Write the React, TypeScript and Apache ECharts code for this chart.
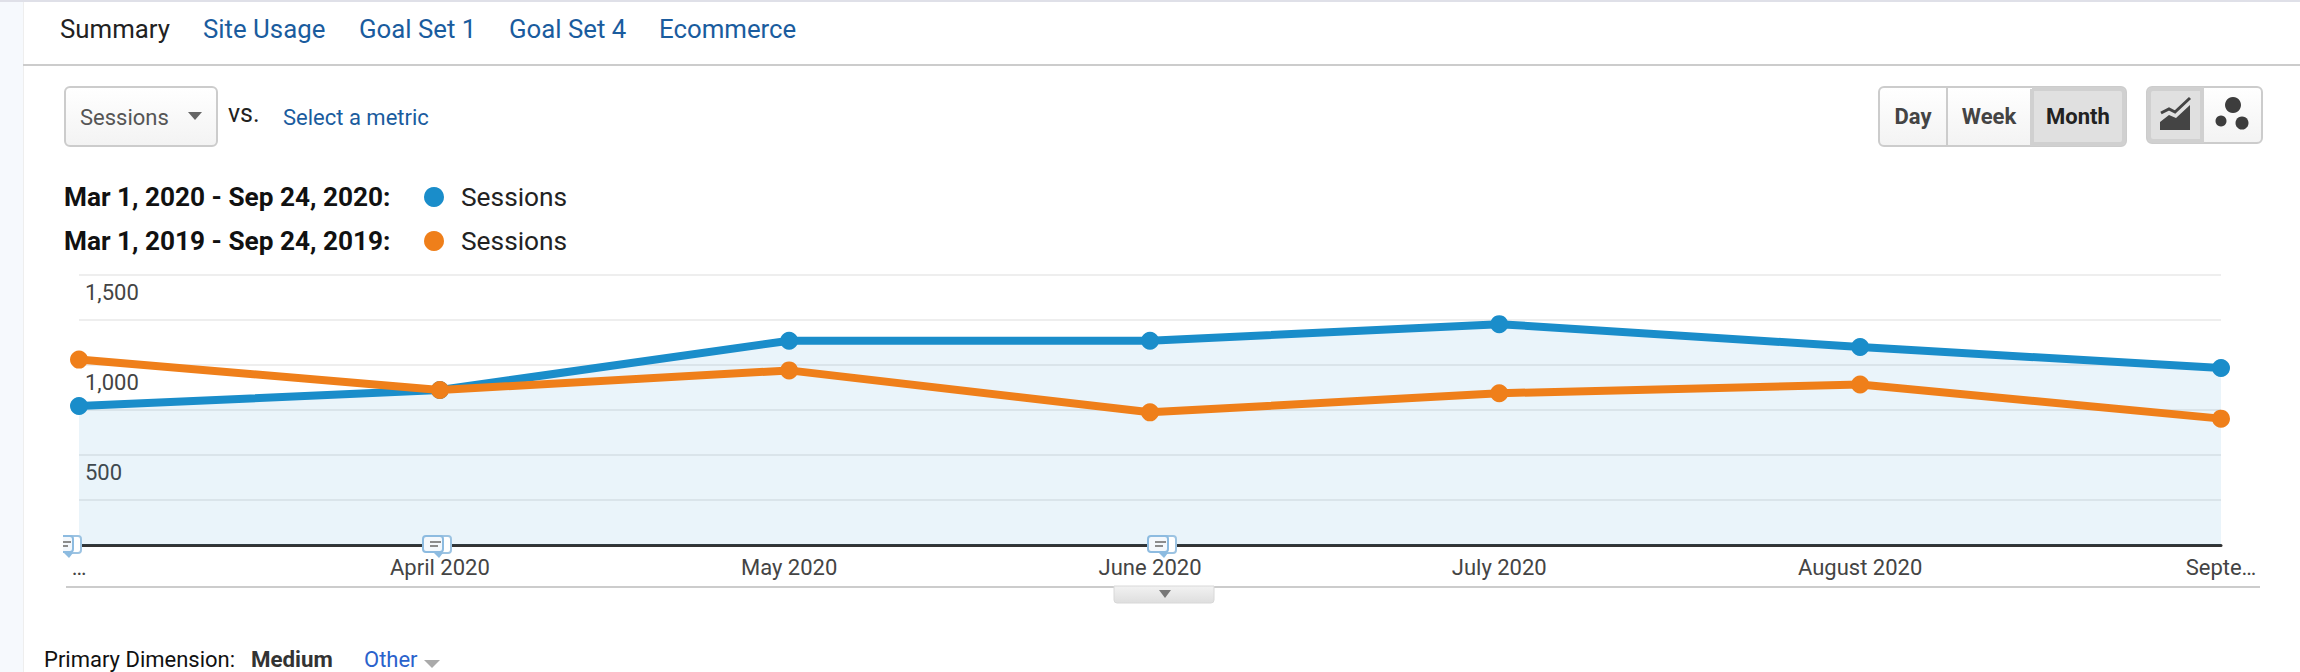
import React, { useEffect, useRef } from "react";
import * as echarts from "echarts";

const monthStarts = ["2020-03-01", "2020-04-01", "2020-05-01", "2020-06-01", "2020-07-01", "2020-08-01", "2020-09-01"];
const xLabels = ["…", "April 2020", "May 2020", "June 2020", "July 2020", "August 2020", "Septe…"];
const sessions2020 = [772, 861, 1135, 1135, 1227, 1100, 983];
const sessions2019 = [1030, 861, 970, 737, 843, 892, 702];
const yLabels = [500, 1000, 1500];
const tabs = ["Summary", "Site Usage", "Goal Set 1", "Goal Set 4", "Ecommerce"];

const FONT = "Roboto, sans-serif";
const BLUE = "#1a8dca";
const ORANGE = "#ef7f1a";
const LINK = "#1a5c9e";

const toTime = (s: string) => {
  const [y, m, d] = s.split("-").map(Number);
  return Date.UTC(y, m - 1, d);
};
const times = monthStarts.map(toTime);

function txt(text: string, x: number, y: number, size: number, fill: string, weight: any = 400, align: any = "left") {
  return {
    type: "text",
    x,
    y,
    z: 20,
    silent: true,
    style: { text, fontFamily: FONT, fontSize: size, fontWeight: weight, fill, align, verticalAlign: "middle" },
  };
}
function btnFill() {
  return new echarts.graphic.LinearGradient(0, 0, 0, 1, [
    { offset: 0, color: "#ffffff" },
    { offset: 1, color: "#f3f3f3" },
  ]);
}
function box(x: number, y: number, w: number, h: number, r: any, fill: any, stroke = "#cccccc", lw = 2, z = 10) {
  return { type: "rect", z, silent: true, shape: { x, y, width: w, height: h, r }, style: { fill, stroke, lineWidth: lw } };
}
function tri(cx: number, top: number, w: number, h: number, fill: string) {
  return {
    type: "polygon",
    z: 21,
    silent: true,
    shape: { points: [[cx - w / 2, top], [cx + w / 2, top], [cx, top + h]] },
    style: { fill },
  };
}
function note(x: number) {
  // x = left edge of the front bubble
  const items: any[] = [
    { type: "rect", z: 30, silent: true, shape: { x: x + 12, y: 536, width: 16, height: 17, r: 3 }, style: { fill: "#ffffff", stroke: "#9cc3e2", lineWidth: 2 } },
    { type: "rect", z: 31, silent: true, shape: { x, y: 536, width: 20, height: 16, r: 3 }, style: { fill: "#f4f8fc", stroke: "#8dbbe0", lineWidth: 2 } },
    { type: "polygon", z: 31, silent: true, shape: { points: [[x + 11, 553], [x + 20, 553], [x + 16, 558]] }, style: { fill: "#8dbbe0" } },
    { type: "rect", z: 32, silent: true, shape: { x: x + 7, y: 541, width: 11, height: 2 }, style: { fill: "#8c8c8c" } },
    { type: "rect", z: 32, silent: true, shape: { x: x + 7, y: 545, width: 8, height: 2 }, style: { fill: "#8c8c8c" } },
  ];
  return items;
}

export default function App() {
  const ref = useRef<HTMLDivElement>(null);
  useEffect(() => {
    document.body.style.margin = "0";
    document.body.style.background = "#fff";
    const chart = echarts.init(ref.current!, undefined, { renderer: "svg" });
    const tabX = [60, 203, 359, 509, 659];
    const graphic: any[] = [
      { type: "rect", z: 1, silent: true, shape: { x: 0, y: 0, width: 23, height: 672 }, style: { fill: "#f6f9fd" } },
      { type: "rect", z: 1, silent: true, shape: { x: 23, y: 0, width: 1, height: 672 }, style: { fill: "#eeeeee" } },
      { type: "rect", z: 2, silent: true, shape: { x: 0, y: 0, width: 2300, height: 2 }, style: { fill: "#dfe0e8" } },
      { type: "rect", z: 2, silent: true, shape: { x: 23, y: 64, width: 2277, height: 2 }, style: { fill: "#cccccc" } },
      ...tabs.map((t, i) => txt(t, tabX[i], 29, 25.8, i === 0 ? "#222222" : LINK)),

      box(65, 87, 152, 59, 5, btnFill()),
      txt("Sessions", 80, 117, 22, "#555555"),
      tri(195, 112, 14, 8, "#666666"),
      txt("vs.", 228, 113, 25, "#222222"),
      txt("Select a metric", 283, 117, 22, LINK),

      txt("Mar 1, 2020 - Sep 24, 2020:", 64, 197, 26.2, "#111111", 700),
      { type: "circle", z: 20, silent: true, shape: { cx: 434, cy: 197, r: 10 }, style: { fill: BLUE } },
      txt("Sessions", 461, 197, 26.3, "#222222"),
      txt("Mar 1, 2019 - Sep 24, 2019:", 64, 241, 26.2, "#111111", 700),
      { type: "circle", z: 20, silent: true, shape: { cx: 434, cy: 241, r: 10 }, style: { fill: ORANGE } },
      txt("Sessions", 461, 241, 26.3, "#222222"),

      box(1879, 87, 247, 59, 5, btnFill()),
      { type: "rect", z: 11, silent: true, shape: { x: 2032, y: 89, width: 92, height: 55, r: [0, 4, 4, 0] }, style: { fill: "#e0e0e0", stroke: "#d0d0d0", lineWidth: 4 } },
      { type: "rect", z: 12, silent: true, shape: { x: 1946, y: 88, width: 2, height: 57 }, style: { fill: "#cccccc" } },
      txt("Day", 1913, 116, 22, "#444444", 700, "center"),
      txt("Week", 1989, 116, 22, "#444444", 700, "center"),
      txt("Month", 2078, 116, 22, "#222222", 700, "center"),

      box(2147, 87, 115, 56, 5, btnFill()),
      { type: "rect", z: 11, silent: true, shape: { x: 2149, y: 89, width: 53, height: 52, r: [4, 0, 0, 4] }, style: { fill: "#e0e0e0", stroke: "#d0d0d0", lineWidth: 4 } },
      { type: "polyline", z: 13, silent: true, shape: { points: [[2161, 113], [2169, 109], [2175, 112], [2190, 98]] }, style: { fill: "none", stroke: "#444444", lineWidth: 3 } },
      { type: "polygon", z: 13, silent: true, shape: { points: [[2160, 130], [2190, 130], [2190, 105], [2176, 118], [2169, 115], [2160, 122]] }, style: { fill: "#444444" } },
      { type: "circle", z: 13, silent: true, shape: { cx: 2233, cy: 105, r: 8 }, style: { fill: "#3d3d3d" } },
      { type: "circle", z: 13, silent: true, shape: { cx: 2221, cy: 121, r: 5.5 }, style: { fill: "#3d3d3d" } },
      { type: "circle", z: 13, silent: true, shape: { cx: 2242, cy: 123, r: 6.5 }, style: { fill: "#3d3d3d" } },

      { type: "rect", z: 2, silent: true, shape: { x: 66, y: 586, width: 2194, height: 2 }, style: { fill: "#cccccc" } },
      box(1114, 586, 100, 17, [0, 0, 3, 3], new echarts.graphic.LinearGradient(0, 0, 0, 1, [
        { offset: 0, color: "#f2f2f2" },
        { offset: 1, color: "#dedede" },
      ]), "#d8d8d8", 1, 3),
      tri(1165, 590, 12, 8, "#777777"),

      ...note(423),
      ...note(1148),
      ...note(53),
      { type: "rect", z: 33, silent: true, shape: { x: 48, y: 532, width: 15, height: 30 }, style: { fill: "#ffffff" } },

      txt("Primary Dimension:", 44, 659, 22, "#111111"),
      txt("Medium", 251, 659, 22.3, "#333333", 700),
      txt("Other", 364, 659, 22, "#2a62cc"),
      tri(432, 660, 16, 8, "#aaaaaa"),
    ];

    chart.setOption({
      animation: false,
      backgroundColor: "#ffffff",
      grid: { left: 79, right: 79, top: 275, bottom: 127 },
      xAxis: {
        type: "value",
        min: times[0],
        max: times[times.length - 1],
        axisLine: { show: true, onZero: false, lineStyle: { color: "#333333", width: 3 } },
        axisTick: { show: false },
        splitLine: { show: false },
        axisLabel: {
          customValues: times,
          margin: 11,
          color: "#444444",
          fontFamily: FONT,
          fontSize: 22,
          hideOverlap: false,
          showMinLabel: true,
          showMaxLabel: true,
          formatter: (v: number) => xLabels[times.indexOf(v)] ?? "",
        },
      },
      yAxis: {
        type: "value",
        min: 0,
        max: 1500,
        interval: 250,
        axisLine: { show: false },
        axisTick: { show: false },
        splitLine: { show: true, lineStyle: { color: "#eeeeee", width: 2 } },
        axisLabel: {
          inside: true,
          customValues: yLabels,
          margin: 6,
          color: "#444444",
          fontFamily: FONT,
          fontSize: 22,
          align: "left",
          verticalAlign: "top",
          padding: [6, 0, 0, 0],
          textBorderColor: "#ffffff",
          textBorderWidth: 3,
          formatter: (v: number) => v.toLocaleString("en-US"),
        },
      },
      series: [
        {
          type: "line",
          name: "Mar 1, 2020 - Sep 24, 2020",
          data: times.map((t, i) => [t, sessions2020[i]]),
          clip: false,
          symbol: "circle",
          symbolSize: 18,
          itemStyle: { color: BLUE },
          lineStyle: { color: BLUE, width: 8 },
          areaStyle: { color: "rgba(25,130,205,0.09)", opacity: 1 },
          z: 3,
        },
        {
          type: "line",
          name: "Mar 1, 2019 - Sep 24, 2019",
          data: times.map((t, i) => [t, sessions2019[i]]),
          clip: false,
          symbol: "circle",
          symbolSize: 18,
          itemStyle: { color: ORANGE },
          lineStyle: { color: ORANGE, width: 8 },
          z: 4,
        },
      ],
      graphic,
    });
    return () => chart.dispose();
  }, []);
  return <div ref={ref} style={{ position: "fixed", left: 0, top: 0, width: 2300, height: 672 }} />;
}
